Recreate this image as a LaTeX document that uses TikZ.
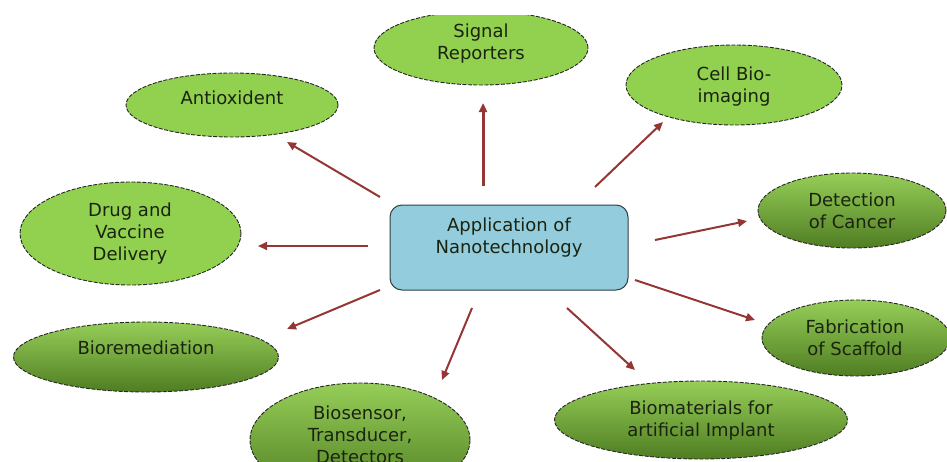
\documentclass[tikz,border=0pt]{standalone}
\usepackage{fontspec}
\setmainfont{DejaVu Sans}
\usetikzlibrary{arrows.meta,shapes.geometric}
\definecolor{lgreen}{HTML}{92D050}
\definecolor{gtop}{HTML}{96CE58}
\definecolor{gbot}{HTML}{4F7D22}
\definecolor{boxf}{HTML}{93CDDD}
\definecolor{boxd}{HTML}{2E3F46}
\definecolor{arrc}{HTML}{943634}
\definecolor{txt}{HTML}{1A2410}
\begin{document}
\begin{tikzpicture}[x=1pt,y=-1pt,
  ell/.style={ellipse, inner sep=0pt, draw=black!85, dash pattern=on 4pt off 1.5pt, line width=0.9pt},
  flat/.style={ell, fill=lgreen},
  grad/.style={ell, top color=gtop, bottom color=gbot},
  lbl/.style={align=center, font=\fontsize{18}{22}\selectfont, text=txt, inner sep=0pt},
  arr/.style={draw=arrc, line width=2pt, -{Triangle[length=9pt,width=8pt]}}]
\useasboundingbox (0,0) rectangle (947,461);
\clip (0,0) rectangle (947,461);

% ellipses
\begin{scope}
  \clip (0,15) rectangle (947,461);
  \node[flat, minimum width=214pt, minimum height=74pt] (sig) at (481,48) {};
\end{scope}
\node[flat, minimum width=212pt, minimum height=64pt] (anti) at (232,105) {};
\node[flat, minimum width=216pt, minimum height=80pt] (cell) at (734,85) {};
\node[flat, minimum width=221pt, minimum height=103pt] (drug) at (130.5,233.5) {};
\node[grad, minimum width=188pt, minimum height=75pt] (det) at (852,210.5) {};
\node[grad, minimum width=265pt, minimum height=70pt] (biorem) at (146,357) {};
\node[grad, minimum width=220pt, minimum height=114pt] (biosens) at (360,440) {};
\node[grad, minimum width=293pt, minimum height=78pt] (biomat) at (701,420) {};
\node[grad, minimum width=188pt, minimum height=76pt] (fab) at (856,338) {};

% central box
\node[draw=boxd, fill=boxf, rounded corners=12pt, line width=1pt,
      minimum width=238pt, minimum height=85pt, inner sep=0pt] (box) at (509,247.5) {};

% labels
\node[lbl] (sigT) at (481,44) {Signal\\Reporters};
\node[lbl] (antiT) at (232,98) {Antioxident};
\node[lbl] (cellT) at (734,87) {Cell Bio-\\imaging};
\node[lbl] (drugT) at (130,234) {Drug and\\Vaccine\\Delivery};
\node[lbl] (detT) at (852,211) {Detection\\of Cancer};
\node[lbl] (bioremT) at (146,348) {Bioremediation};
\node[lbl] (biosensT) at (360,435) {Biosensor,\\Transducer,\\Detectors};
\node[lbl] (biomatT) at (701,420.5) {Biomaterials for\\artificial Implant};
\node[lbl] (fabT) at (855,337.5) {Fabrication\\of Scaffold};
\node[lbl] (boxT) at (509,238) {Application of\\Nanotechnology};

% connector end points
\coordinate (aS) at (380,197);  \coordinate (aE) at (287,142);
\coordinate (sS) at (483,186);  \coordinate (sE) at (483,103);
\coordinate (cS) at (595,187);  \coordinate (cE) at (663,122);
\coordinate (dS) at (655,240);  \coordinate (dE) at (747,221);
\coordinate (vS) at (368,246);  \coordinate (vE) at (258,246);
\coordinate (rS) at (380,290);  \coordinate (rE) at (287,329);
\coordinate (bS) at (472,308);  \coordinate (bE) at (442,380);
\coordinate (mS) at (567,308);  \coordinate (mE) at (635,370);
\coordinate (fS) at (635,280);  \coordinate (fE) at (755,320);

\draw[arr] (aS) -- (aE);
\draw[arr, line width=3pt] (sS) -- (sE);
\draw[arr] (cS) -- (cE);
\draw[arr] (dS) -- (dE);
\draw[arr] (vS) -- (vE);
\draw[arr] (rS) -- (rE);
\draw[arr] (bS) -- (bE);
\draw[arr] (mS) -- (mE);
\draw[arr] (fS) -- (fE);
\end{tikzpicture}
\end{document}
